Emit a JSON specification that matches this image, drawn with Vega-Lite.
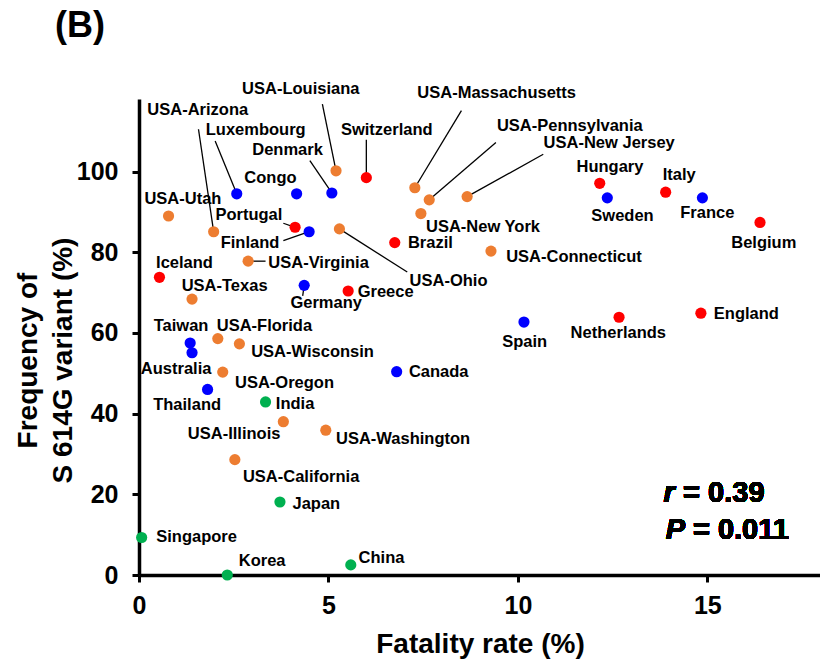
{
  "$schema": "https://vega.github.io/schema/vega-lite/v6.json",
  "width": 682,
  "height": 476,
  "autosize": {"type": "none"},
  "padding": {"left": 139, "top": 99, "right": 0, "bottom": 85},
  "background": "white",
  "title": {"text": "(B)", "anchor": "start", "frame": "group", "fontSize": 36, "font": "Liberation Sans", "fontWeight": "bold", "color": "black", "dx": -84, "baseline": "alphabetic", "offset": 8},
  "config": {
    "view": {"stroke": null},
    "axis": {"grid": false, "domainColor": "black", "domainWidth": 3.5, "tickColor": "black", "tickWidth": 3, "tickSize": 7, "labelFont": "Liberation Sans", "labelFontWeight": "bold", "labelFontSize": 25, "labelColor": "black", "labelFlush": false, "titleFont": "Liberation Sans", "titleFontWeight": "bold", "titleFontSize": 28, "titleColor": "black", "zindex": 0}
  },
  "data": {"values": [
    {"name": "Switzerland", "fatality": 6.00, "freq": 98.5, "group": "G1", "lx": 6.54, "ly": 110.3, "ex": 6.0, "ey": 107.9},
    {"name": "Hungary", "fatality": 12.16, "freq": 97.1, "group": "G1", "lx": 12.43, "ly": 101.2},
    {"name": "Italy", "fatality": 13.90, "freq": 94.9, "group": "G1", "lx": 14.26, "ly": 99.2},
    {"name": "Belgium", "fatality": 16.39, "freq": 87.4, "group": "G1", "lx": 16.49, "ly": 82.2},
    {"name": "Brazil", "fatality": 6.75, "freq": 82.4, "group": "G1", "lx": 7.69, "ly": 82.2},
    {"name": "Portugal", "fatality": 4.12, "freq": 86.2, "group": "G1", "lx": 2.90, "ly": 89.2, "ex": 3.81, "ey": 87.2},
    {"name": "Iceland", "fatality": 0.54, "freq": 73.8, "group": "G1", "lx": 1.20, "ly": 77.3},
    {"name": "Greece", "fatality": 5.52, "freq": 70.4, "group": "G1", "lx": 6.51, "ly": 70.2},
    {"name": "Netherlands", "fatality": 12.67, "freq": 63.9, "group": "G1", "lx": 12.65, "ly": 59.9},
    {"name": "England", "fatality": 14.83, "freq": 64.9, "group": "G1", "lx": 16.03, "ly": 64.6},
    {"name": "Luxembourg", "fatality": 2.58, "freq": 94.5, "group": "G2", "lx": 3.08, "ly": 110.3, "ex": 2.01, "ey": 107.6},
    {"name": "Congo", "fatality": 4.16, "freq": 94.5, "group": "G2", "lx": 3.47, "ly": 98.5},
    {"name": "Denmark", "fatality": 5.09, "freq": 94.7, "group": "G2", "lx": 3.92, "ly": 105.4, "ex": 4.51, "ey": 102.7},
    {"name": "Sweden", "fatality": 12.36, "freq": 93.5, "group": "G2", "lx": 12.76, "ly": 89.0},
    {"name": "France", "fatality": 14.87, "freq": 93.5, "group": "G2", "lx": 15.0, "ly": 89.7},
    {"name": "Finland", "fatality": 4.49, "freq": 85.1, "group": "G2", "lx": 2.93, "ly": 82.4, "ex": 3.81, "ey": 82.9},
    {"name": "Germany", "fatality": 4.36, "freq": 71.8, "group": "G2", "lx": 4.94, "ly": 67.4, "ex": 4.32, "ey": 69.2},
    {"name": "Taiwan", "fatality": 1.35, "freq": 57.5, "group": "G2", "lx": 1.11, "ly": 61.8},
    {"name": "Australia", "fatality": 1.40, "freq": 55.1, "group": "G2", "lx": 0.98, "ly": 51.1},
    {"name": "Canada", "fatality": 6.80, "freq": 50.4, "group": "G2", "lx": 7.91, "ly": 50.4},
    {"name": "Thailand", "fatality": 1.81, "freq": 46.0, "group": "G2", "lx": 1.27, "ly": 42.2},
    {"name": "Spain", "fatality": 10.16, "freq": 62.7, "group": "G2", "lx": 10.18, "ly": 57.8},
    {"name": "USA-Louisiana", "fatality": 5.20, "freq": 100.2, "group": "G3", "lx": 4.27, "ly": 120.5, "ex": 4.84, "ey": 116.7},
    {"name": "USA-Utah", "fatality": 0.78, "freq": 89.0, "group": "G3", "lx": 1.16, "ly": 93.2},
    {"name": "USA-Massachusetts", "fatality": 7.28, "freq": 96.0, "group": "G3", "lx": 9.44, "ly": 119.4, "ex": 8.51, "ey": 115.1},
    {"name": "USA-Pennsylvania", "fatality": 7.66, "freq": 93.0, "group": "G3", "lx": 11.37, "ly": 111.2, "ex": 9.42, "ey": 107.2},
    {"name": "USA-New Jersey", "fatality": 8.66, "freq": 93.8, "group": "G3", "lx": 12.41, "ly": 107.0, "ex": 10.67, "ey": 104.3},
    {"name": "USA-New York", "fatality": 7.44, "freq": 89.6, "group": "G3", "lx": 9.08, "ly": 86.2},
    {"name": "USA-Connecticut", "fatality": 9.29, "freq": 80.3, "group": "G3", "lx": 11.48, "ly": 78.8},
    {"name": "USA-Ohio", "fatality": 5.29, "freq": 85.8, "group": "G3", "lx": 8.17, "ly": 73.0, "ex": 7.08, "ey": 75.1},
    {"name": "USA-Arizona", "fatality": 1.97, "freq": 85.1, "group": "G3", "lx": 1.55, "ly": 115.3, "ex": 1.57, "ey": 110.5},
    {"name": "USA-Virginia", "fatality": 2.88, "freq": 77.8, "group": "G3", "lx": 4.74, "ly": 77.3, "ex": 3.34, "ey": 77.8},
    {"name": "USA-Texas", "fatality": 1.40, "freq": 68.4, "group": "G3", "lx": 2.26, "ly": 71.7},
    {"name": "USA-Florida", "fatality": 2.08, "freq": 58.6, "group": "G3", "lx": 3.31, "ly": 61.8},
    {"name": "USA-Wisconsin", "fatality": 2.65, "freq": 57.3, "group": "G3", "lx": 4.58, "ly": 55.2},
    {"name": "USA-Oregon", "fatality": 2.21, "freq": 50.3, "group": "G3", "lx": 3.84, "ly": 47.5},
    {"name": "USA-Illinois", "fatality": 3.81, "freq": 38.0, "group": "G3", "lx": 2.51, "ly": 34.9},
    {"name": "USA-Washington", "fatality": 4.93, "freq": 35.9, "group": "G3", "lx": 6.97, "ly": 33.8},
    {"name": "USA-California", "fatality": 2.53, "freq": 28.6, "group": "G3", "lx": 4.28, "ly": 24.4},
    {"name": "India", "fatality": 3.34, "freq": 42.9, "group": "G4", "lx": 4.12, "ly": 42.3},
    {"name": "Japan", "fatality": 3.72, "freq": 18.1, "group": "G4", "lx": 4.68, "ly": 17.5},
    {"name": "Singapore", "fatality": 0.07, "freq": 9.3, "group": "G4", "lx": 1.52, "ly": 9.5},
    {"name": "Korea", "fatality": 2.33, "freq": 0.0, "group": "G4", "lx": 3.25, "ly": 3.5},
    {"name": "China", "fatality": 5.59, "freq": 2.5, "group": "G4", "lx": 6.40, "ly": 4.3}
  ]},
  "layer": [
    {
      "transform": [{"filter": "isValid(datum.ex)"}],
      "mark": {"type": "rule", "color": "black", "strokeWidth": 1.3},
      "encoding": {
        "x": {"field": "fatality", "type": "quantitative"},
        "y": {"field": "freq", "type": "quantitative"},
        "x2": {"field": "ex"},
        "y2": {"field": "ey"}
      }
    },
    {
      "mark": {"type": "circle", "size": 125, "opacity": 1},
      "encoding": {
        "x": {"field": "fatality", "type": "quantitative", "scale": {"domain": [0, 18], "nice": false, "zero": false}, "axis": {"title": "Fatality rate (%)", "values": [0, 5, 10, 15], "labelPadding": 11, "titleY": 77, "titleBaseline": "alphabetic"}},
        "y": {"field": "freq", "type": "quantitative", "scale": {"domain": [0, 118], "nice": false, "zero": false}, "axis": {"title": ["Frequency of", "S 614G variant (%)"], "values": [0, 20, 40, 60, 80, 100], "labelPadding": 14, "titleX": -111, "titleY": 261, "titleBaseline": "middle", "titleAlign": "center", "titleLineHeight": 35}},
        "color": {"field": "group", "type": "nominal", "scale": {"domain": ["G1", "G2", "G3", "G4"], "range": ["#FF0000", "#0000FF", "#ED7D31", "#00B050"]}, "legend": null}
      }
    },
    {
      "mark": {"type": "text", "font": "Liberation Sans", "fontWeight": "bold", "fontSize": 16.5, "color": "black", "align": "center", "baseline": "middle"},
      "encoding": {
        "x": {"field": "lx", "type": "quantitative"},
        "y": {"field": "ly", "type": "quantitative"},
        "text": {"field": "name"}
      }
    },
    {
      "mark": {"type": "text", "font": "Liberation Sans", "fontWeight": "bold", "fontStyle": "italic", "fontSize": 29, "color": "black", "align": "left", "baseline": "alphabetic"},
      "encoding": {"x": {"datum": 13.84}, "y": {"datum": 18.2}, "text": {"value": "r"}}
    },
    {
      "mark": {"type": "text", "font": "Liberation Sans", "fontWeight": "bold", "fontSize": 29, "color": "black", "align": "left", "baseline": "alphabetic"},
      "encoding": {"x": {"datum": 14.36}, "y": {"datum": 18.2}, "text": {"value": "= 0.39"}}
    },
    {
      "mark": {"type": "text", "font": "Liberation Sans", "fontWeight": "bold", "fontStyle": "italic", "fontSize": 29, "color": "black", "align": "left", "baseline": "alphabetic"},
      "encoding": {"x": {"datum": 13.9}, "y": {"datum": 8.9}, "text": {"value": "P"}}
    },
    {
      "mark": {"type": "text", "font": "Liberation Sans", "fontWeight": "bold", "fontSize": 29, "color": "black", "align": "left", "baseline": "alphabetic"},
      "encoding": {"x": {"datum": 14.62}, "y": {"datum": 8.9}, "text": {"value": "= 0.011"}}
    }
  ]
}
